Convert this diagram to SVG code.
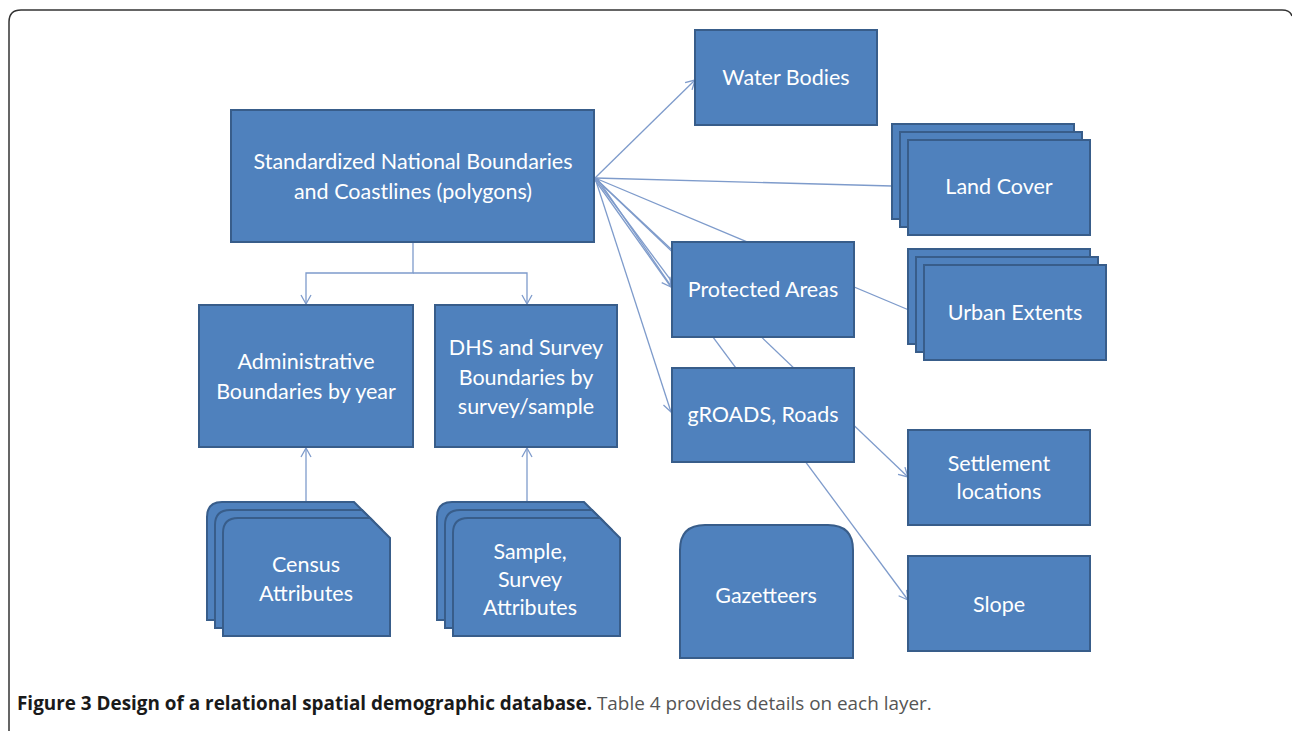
<svg xmlns="http://www.w3.org/2000/svg" width="1292" height="731" viewBox="0 0 1292 731">
<defs>
<marker id="ah" markerWidth="12" markerHeight="12" refX="10" refY="6" orient="auto" markerUnits="userSpaceOnUse">
<path d="M1,1 L10,6 L1,11" fill="none" stroke="#7E9BCB" stroke-width="1.3"/>
</marker>
<style>
.b{fill:#4F81BD;stroke:#385D8A;stroke-width:2}
.t{fill:#FFFFFF;font-family:Lato,"Open Sans",sans-serif;font-size:21.5px;text-anchor:middle}
.c{fill:none;stroke:#7E9BCB;stroke-width:1.3}
.cap{font-family:"Open Sans","Liberation Sans",sans-serif;font-size:18.9px}
</style>
</defs>
<rect width="1292" height="731" fill="#FFFFFF"/>
<path d="M9,731 V22 Q9,10 21,10 H1282 Q1290,10 1292,16" fill="none" stroke="#333333" stroke-width="1.5"/>

<g id="connectors">
<line class="c" x1="595" y1="178" x2="916" y2="313"/>
<line class="c" x1="595" y1="178" x2="908" y2="477" marker-end="url(#ah)"/>
<line class="c" x1="595" y1="178" x2="908" y2="600" marker-end="url(#ah)"/>
<line class="c" x1="595" y1="178" x2="892" y2="186"/>
<line class="c" x1="595" y1="178" x2="695" y2="80" marker-end="url(#ah)"/>
<line class="c" x1="595" y1="178" x2="671" y2="249"/>
<line class="c" x1="595" y1="180" x2="671" y2="287" marker-end="url(#ah)"/>
<line class="c" x1="597" y1="178" x2="671" y2="286"/>
<line class="c" x1="595" y1="178" x2="671" y2="412" marker-end="url(#ah)"/>
<polyline class="c" points="413,242 413,273 306,273 306,304" marker-end="url(#ah)"/>
<polyline class="c" points="413,273 527,273 527,304" marker-end="url(#ah)"/>
<line class="c" x1="306" y1="501" x2="306" y2="448" marker-end="url(#ah)"/>
<line class="c" x1="527" y1="501" x2="527" y2="448" marker-end="url(#ah)"/>
</g>

<g id="n-main">
<rect class="b" x="231" y="110" width="363" height="132"/>
<text class="t" x="413" y="169">Standardized National Boundaries</text>
<text class="t" x="413" y="199">and Coastlines (polygons)</text>
</g>
<g id="n-admin">
<rect class="b" x="199" y="305" width="214" height="142"/>
<text class="t" x="306" y="369">Administrative</text>
<text class="t" x="306" y="399">Boundaries by year</text>
</g>
<g id="n-dhs">
<rect class="b" x="435" y="305" width="182" height="142"/>
<text class="t" x="526" y="355">DHS and Survey</text>
<text class="t" x="526" y="385">Boundaries by</text>
<text class="t" x="526" y="414">survey/sample</text>
</g>
<g id="n-census">
<path class="b" d="M207,620 V517 Q207,502 222,502 H354 L374,522 V620 Z"/>
<path class="b" d="M215,628 V525 Q215,510 230,510 H362 L382,530 V628 Z"/>
<path class="b" d="M223,636 V533 Q223,518 238,518 H370 L390,538 V636 Z"/>
<text class="t" x="306" y="572">Census</text>
<text class="t" x="306" y="601">Attributes</text>
</g>
<g id="n-sample">
<path class="b" d="M437,620 V517 Q437,502 452,502 H584 L604,522 V620 Z"/>
<path class="b" d="M445,628 V525 Q445,510 460,510 H592 L612,530 V628 Z"/>
<path class="b" d="M453,636 V533 Q453,518 468,518 H600 L620,538 V636 Z"/>
<text class="t" x="530" y="559">Sample,</text>
<text class="t" x="530" y="587">Survey</text>
<text class="t" x="530" y="615">Attributes</text>
</g>
<g id="n-water">
<rect class="b" x="695" y="30" width="182" height="95"/>
<text class="t" x="786" y="85">Water Bodies</text>
</g>
<g id="n-land">
<rect class="b" x="892" y="124" width="182" height="95"/>
<rect class="b" x="900" y="132" width="182" height="95"/>
<rect class="b" x="908" y="140" width="182" height="95"/>
<text class="t" x="999" y="194">Land Cover</text>
</g>
<g id="n-protected">
<rect class="b" x="672" y="242" width="182" height="95"/>
<text class="t" x="763" y="297">Protected Areas</text>
</g>
<g id="n-urban">
<rect class="b" x="908" y="249" width="182" height="95"/>
<rect class="b" x="916" y="257" width="182" height="95"/>
<rect class="b" x="924" y="265" width="182" height="95"/>
<text class="t" x="1015" y="320">Urban Extents</text>
</g>
<g id="n-roads">
<rect class="b" x="672" y="368" width="182" height="94"/>
<text class="t" x="763" y="422">gROADS, Roads</text>
</g>
<g id="n-settlement">
<rect class="b" x="908" y="430" width="182" height="95"/>
<text class="t" x="999" y="471">Settlement</text>
<text class="t" x="999" y="499">locations</text>
</g>
<g id="n-gazetteers">
<path class="b" d="M680,658 V550 Q680,525 705,525 H828 Q853,525 853,550 V658 Z"/>
<text class="t" x="766" y="603">Gazetteers</text>
</g>
<g id="n-slope">
<rect class="b" x="908" y="556" width="182" height="95"/>
<text class="t" x="999" y="612">Slope</text>
</g>

<text class="cap" x="17" y="710"><tspan font-weight="bold" fill="#1A1A1A">Figure 3 Design of a relational spatial demographic database.</tspan><tspan fill="#555555"> Table 4 provides details on each layer.</tspan></text>
</svg>
